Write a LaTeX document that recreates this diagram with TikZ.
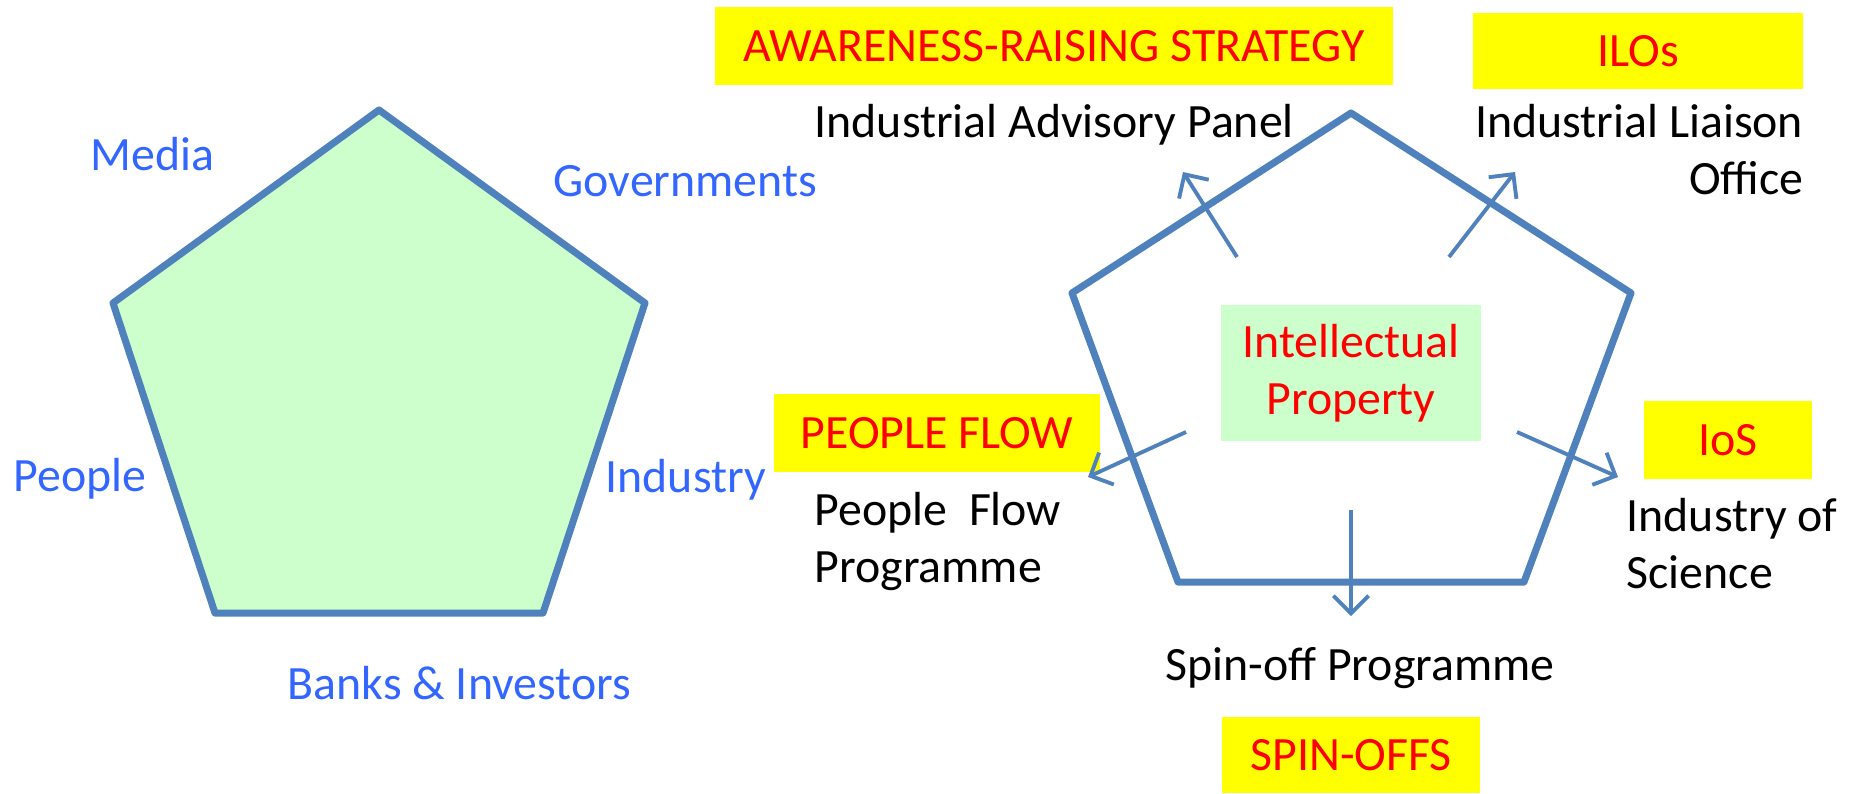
\documentclass[tikz,border=0pt]{standalone}
\usepackage{fontspec}
\setmainfont{Carlito}
\usetikzlibrary{arrows.meta}
\definecolor{penblue}{HTML}{4F81BD}
\definecolor{labblue}{HTML}{3366FF}
\definecolor{ipgreen}{HTML}{CCFFCC}
\definecolor{tagyellow}{HTML}{FFFF00}
\definecolor{tagred}{HTML}{FF0000}

\begin{document}
\begin{tikzpicture}[x=0.01cm,y=-0.01cm,
  font=\fontsize{13.6}{16.2}\selectfont,
  pent/.style={draw=penblue,line width=2pt,line join=round},
  flow/.style={-{Straight Barb[length=5pt,width=10pt]},draw=penblue,line width=1.1pt},
  actor/.style={text=labblue,inner sep=0pt,anchor=base west},
  prog/.style={inner sep=0pt},
  tag/.style={fill=tagyellow,text=tagred,inner sep=0pt},
  ipbox/.style={fill=ipgreen,text=tagred,inner sep=0pt,align=center}]
  \useasboundingbox (0,0) rectangle (1854,793);
  % left pentagon: the actors
  \draw[pent,fill=ipgreen] (379,110) -- (645,303) -- (543,613) -- (215,613) -- (113,303) -- cycle;
  \node[actor] (media) at (90,170) {Media};
  \node[actor] (gov) at (553,196) {Governments};
  \node[actor] (people) at (13,491) {People};
  \node[actor] (industry) at (605,492) {Industry};
  \node[actor] (banks) at (287,699) {Banks \& Investors};
  % right pentagon: the programmes
  \draw[pent] (1351,113) -- (1631,293) -- (1524,582) -- (1178,582) -- (1072,293) -- cycle;
  \node[ipbox,minimum width=2.59cm,minimum height=1.36cm] (ip) at (1351,373) {Intellectual\\Property};
  \node[tag,minimum width=6.77cm,minimum height=0.77cm] (ars) at (1054,46) {AWARENESS-RAISING STRATEGY};
  \node[tag,minimum width=3.29cm,minimum height=0.75cm] (ilos) at (1638,51) {ILOs};
  \node[tag,minimum width=3.26cm,minimum height=0.78cm] (pf) at (937,433) {PEOPLE FLOW};
  \node[tag,minimum width=1.67cm,minimum height=0.77cm] (ios) at (1728,440) {IoS};
  \node[tag,minimum width=2.58cm,minimum height=0.75cm] (spin) at (1351,755) {SPIN-OFFS};
  % base anchor of a two-line node sits on its last line
  \node[prog,anchor=base west] (iap) at (814,137) {Industrial Advisory Panel};
  \node[prog,anchor=base east,align=right] (ilo) at (1804,194) {Industrial Liaison\\Office};
  \node[prog,anchor=base west,align=left] (pfp) at (814,582) {People\ \ Flow\\Programme};
  \node[prog,anchor=base west,align=left] (ios-txt) at (1626,588) {Industry of\\Science};
  \node[prog,anchor=base] (sop) at (1360,680) {Spin-off Programme};
  % arrows out of the IP core
  \coordinate (o1) at (1237,257); \coordinate (t1) at (1183,172);
  \coordinate (o2) at (1449,257); \coordinate (t2) at (1515,172);
  \coordinate (o3) at (1186,432); \coordinate (t3) at (1088,477);
  \coordinate (o4) at (1517,432); \coordinate (t4) at (1618,477);
  \coordinate (o5) at (1351,510); \coordinate (t5) at (1351,616);
  \foreach \i in {1,...,5}
    \draw[flow] (o\i) -- (t\i);
\end{tikzpicture}
\end{document}
